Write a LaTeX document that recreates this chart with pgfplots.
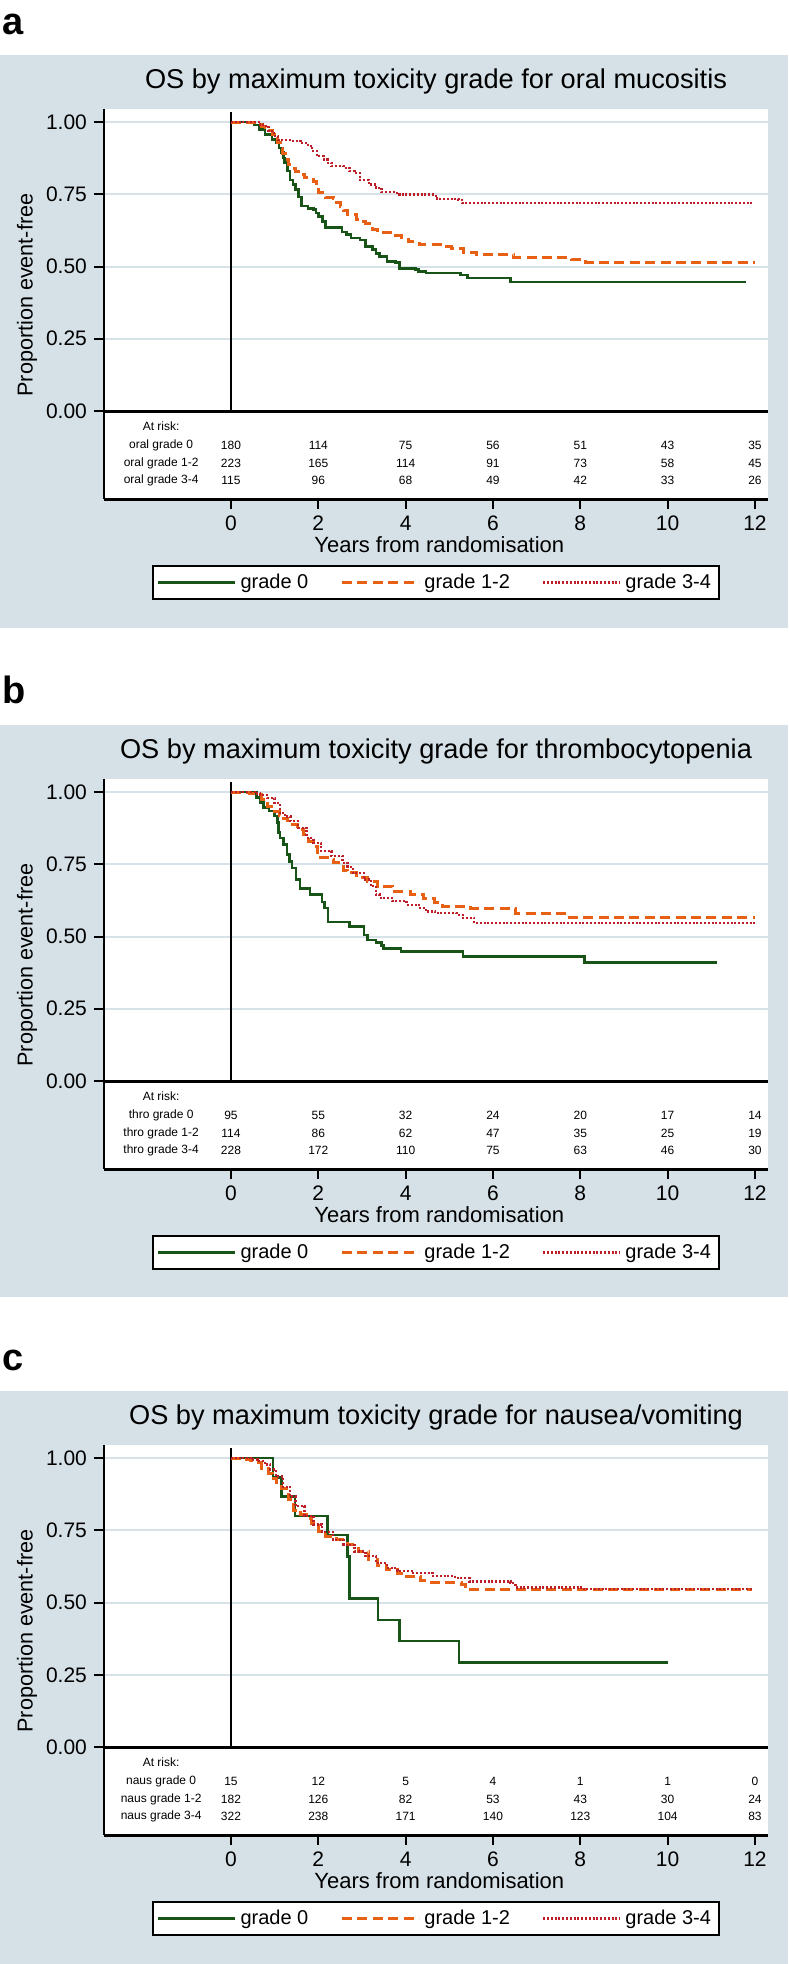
\documentclass[border=0pt]{standalone}
\usepackage{fontspec}
\setmainfont{Liberation Sans}
\usepackage{pgfplots}
\pgfplotsset{compat=1.18}

\definecolor{statabg}{RGB}{213,225,231}
\definecolor{gridc}{RGB}{214,226,232}
\definecolor{g0}{RGB}{24,84,24}
\definecolor{g12}{RGB}{232,96,20}
\definecolor{g34}{RGB}{190,30,40}

\tikzset{
  risk/.style={font=\fontsize{6}{7}\selectfont, inner sep=0pt, anchor=center},
  letter/.style={font=\bfseries\fontsize{19}{22}\selectfont, anchor=base west, inner sep=0pt},
}

\pgfplotsset{
  kmaxis/.style={
    scale only axis, width=332pt, height=195pt,
    anchor=north west,
    xmin=-2.908, xmax=12.298, ymin=-0.3045, ymax=1.045,
    axis x line*=bottom, axis y line*=left,
    x axis line style={line width=1.5pt,-},
    y axis line style={line width=1pt,-},
    xtick={0,2,...,12}, ytick={0,0.25,0.5,0.75,1},
    tick align=outside, major tick length=5pt,
    tick style={black,line width=1pt},
    ymajorgrids, grid style={gridc,line width=1pt},
    axis background/.style={fill=white},
    /pgf/number format/assume math mode=true,
    y tick label style={/pgf/number format/fixed,/pgf/number format/fixed zerofill,/pgf/number format/precision=2},
    tick label style={font=\fontsize{10.5}{12}\selectfont},
    title style={at={(0.5,1)}, anchor=base, yshift=4.5pt, font=\fontsize{13.6}{16}\selectfont},
    xlabel={Years from randomisation},
    xlabel style={at={(axis description cs:0.505,-0.118)}, anchor=center, font=\fontsize{11}{13}\selectfont},
    ylabel={Proportion event-free},
    ylabel style={at={(axis description cs:-0.116,0.523)}, anchor=center, font=\fontsize{10.8}{13}\selectfont},
    legend columns=3,
    legend style={at={(axis description cs:0.5,-0.2141)}, anchor=center,
      draw=black, line width=0.8pt, fill=white,
      font=\fontsize{10}{12}\selectfont,
      inner xsep=2pt, inner ysep=2pt,
      /tikz/every even column/.append style={column sep=14pt}},
    legend image code/.code={\draw[#1] (0pt,0pt) -- (38.5pt,0pt);},
  },
  grade0/.style={const plot, g0, line width=1.3pt, no marks},
  grade12/.style={const plot, g12, line width=1.5pt, dash pattern=on 5pt off 2.7pt, no marks},
  grade34/.style={const plot, g34, line width=1.2pt, dash pattern=on 1pt off 0.9pt, no marks},
}

% one row of the at-risk table: y, label, counts at 0,2,...,12 years
\newcommand{\riskrow}[9]{%
  \node[risk] at (axis cs:-1.6,#1) {#2};
  \node[risk] at (axis cs:0,#1) {#3};
  \node[risk] at (axis cs:2,#1) {#4};
  \node[risk] at (axis cs:4,#1) {#5};
  \node[risk] at (axis cs:6,#1) {#6};
  \node[risk] at (axis cs:8,#1) {#7};
  \node[risk] at (axis cs:10,#1) {#8};
  \node[risk] at (axis cs:12,#1) {#9};
}
\newcommand{\reflines}{%
  \draw[black,line width=1pt] (axis cs:0,0) -- (axis cs:0,1.034);
  \draw[black,line width=1.5pt] (axis cs:-2.908,0) -- (axis cs:12.298,0);
  \node[risk] at (axis cs:-1.6,-0.052) {At risk:};
}

\begin{document}
\begin{tikzpicture}
\path[use as bounding box] (0,0) rectangle (394pt,-982pt);
\fill[white] (0,0) rectangle (394pt,-982pt);
\fill[statabg] (0,-27.5pt) rectangle (394pt,-314pt);
\fill[statabg] (0,-362.5pt) rectangle (394pt,-648.5pt);
\fill[statabg] (0,-695.5pt) rectangle (394pt,-982pt);
\node[letter] at (1pt,-17.5pt) {a};
\node[letter] at (1pt,-351.5pt) {b};
\node[letter] at (1pt,-685pt) {c};

% ---- a: oral mucositis
\begin{axis}[kmaxis, at={(52pt,-54.5pt)},
  title={OS by maximum toxicity grade for oral mucositis}]
\reflines
\addplot[grade0] coordinates {(0,1.000) (0.53,0.990) (0.65,0.975) (0.78,0.957) (0.94,0.940) (1.03,0.930) (1.10,0.910) (1.15,0.894) (1.20,0.875) (1.23,0.860) (1.30,0.830) (1.35,0.800) (1.42,0.783) (1.48,0.766) (1.55,0.740) (1.62,0.710) (1.76,0.700) (1.89,0.697) (1.95,0.685) (2.01,0.674) (2.10,0.655) (2.17,0.636) (2.54,0.620) (2.65,0.610) (2.75,0.598) (2.95,0.592) (3.08,0.570) (3.24,0.558) (3.32,0.545) (3.40,0.535) (3.57,0.517) (3.77,0.514) (3.86,0.494) (4.22,0.490) (4.30,0.483) (4.47,0.477) (5.25,0.470) (5.42,0.460) (6.40,0.446) (11.80,0.446)};
\addlegendentry{grade 0}
\addplot[grade12] coordinates {(0,1.000) (0.62,0.990) (0.70,0.985) (0.78,0.980) (0.86,0.970) (0.94,0.957) (1.00,0.945) (1.07,0.930) (1.13,0.910) (1.19,0.890) (1.25,0.870) (1.31,0.853) (1.40,0.840) (1.48,0.830) (1.58,0.820) (1.68,0.807) (1.80,0.800) (1.89,0.795) (1.95,0.775) (2.01,0.755) (2.17,0.740) (2.34,0.734) (2.42,0.720) (2.50,0.708) (2.58,0.695) (2.67,0.680) (2.87,0.664) (3.00,0.655) (3.08,0.650) (3.17,0.637) (3.24,0.627) (3.36,0.616) (3.73,0.606) (3.90,0.595) (4.06,0.587) (4.31,0.575) (4.80,0.569) (5.05,0.564) (5.33,0.549) (5.62,0.540) (6.48,0.531) (7.79,0.523) (8.12,0.515) (12.00,0.515)};
\addlegendentry{grade 1-2}
\addplot[grade34] coordinates {(0,1.000) (0.66,0.991) (0.74,0.986) (0.86,0.969) (0.98,0.951) (1.07,0.938) (1.35,0.934) (1.60,0.928) (1.76,0.917) (1.86,0.900) (1.97,0.882) (2.13,0.870) (2.22,0.858) (2.30,0.847) (2.58,0.841) (2.71,0.830) (2.83,0.824) (2.95,0.800) (3.16,0.784) (3.32,0.772) (3.45,0.758) (3.77,0.755) (3.86,0.749) (4.63,0.745) (4.72,0.734) (5.21,0.731) (5.29,0.720) (11.95,0.720)};
\addlegendentry{grade 3-4}
\riskrow{-0.118}{oral grade 0}{180}{114}{75}{56}{51}{43}{35}
\riskrow{-0.180}{oral grade 1-2}{223}{165}{114}{91}{73}{58}{45}
\riskrow{-0.239}{oral grade 3-4}{115}{96}{68}{49}{42}{33}{26}
\end{axis}

% ---- b: thrombocytopenia
\begin{axis}[kmaxis, at={(52pt,-389.5pt)},
  title={OS by maximum toxicity grade for thrombocytopenia}]
\reflines
\addplot[grade0] coordinates {(0,1.000) (0.59,0.980) (0.68,0.963) (0.75,0.946) (0.87,0.934) (1.00,0.917) (1.06,0.894) (1.09,0.860) (1.12,0.841) (1.20,0.818) (1.28,0.784) (1.34,0.760) (1.40,0.737) (1.49,0.697) (1.58,0.667) (1.81,0.645) (2.08,0.620) (2.14,0.598) (2.22,0.550) (2.71,0.535) (3.05,0.505) (3.12,0.488) (3.32,0.479) (3.45,0.468) (3.49,0.459) (3.89,0.448) (5.31,0.431) (8.10,0.410) (11.14,0.410)};
\addlegendentry{grade 0}
\addplot[grade12] coordinates {(0,1.000) (0.42,0.995) (0.59,0.990) (0.71,0.975) (0.83,0.951) (1.00,0.934) (1.10,0.920) (1.20,0.910) (1.30,0.900) (1.40,0.888) (1.52,0.870) (1.65,0.853) (1.77,0.830) (1.89,0.812) (1.97,0.790) (2.06,0.772) (2.22,0.766) (2.35,0.755) (2.47,0.743) (2.57,0.730) (2.67,0.720) (2.87,0.703) (3.12,0.691) (3.36,0.674) (3.70,0.656) (4.10,0.645) (4.40,0.630) (4.67,0.618) (4.85,0.604) (5.49,0.598) (6.51,0.581) (7.69,0.567) (12.00,0.567)};
\addlegendentry{grade 1-2}
\addplot[grade34] coordinates {(0,1.000) (0.55,0.995) (0.67,0.990) (0.83,0.980) (1.00,0.963) (1.12,0.928) (1.24,0.915) (1.36,0.900) (1.53,0.876) (1.73,0.841) (1.89,0.824) (2.06,0.795) (2.30,0.778) (2.55,0.755) (2.67,0.740) (2.79,0.720) (3.04,0.697) (3.20,0.674) (3.32,0.645) (3.40,0.633) (3.69,0.622) (4.02,0.610) (4.30,0.598) (4.46,0.587) (4.67,0.581) (5.16,0.575) (5.32,0.564) (5.57,0.546) (12.00,0.546)};
\addlegendentry{grade 3-4}
\riskrow{-0.118}{thro grade 0}{95}{55}{32}{24}{20}{17}{14}
\riskrow{-0.180}{thro grade 1-2}{114}{86}{62}{47}{35}{25}{19}
\riskrow{-0.239}{thro grade 3-4}{228}{172}{110}{75}{63}{46}{30}
\end{axis}

% ---- c: nausea/vomiting
\begin{axis}[kmaxis, at={(52pt,-722.5pt)},
  title={OS by maximum toxicity grade for nausea/vomiting}]
\reflines
\addplot[grade0] coordinates {(0,1.000) (0.96,0.933) (1.16,0.867) (1.47,0.800) (2.21,0.733) (2.67,0.660) (2.71,0.513) (3.37,0.440) (3.86,0.367) (5.22,0.293) (10.00,0.293)};
\addlegendentry{grade 0}
\addplot[grade12] coordinates {(0,1.000) (0.29,0.995) (0.45,0.990) (0.53,0.983) (0.70,0.965) (0.86,0.948) (0.94,0.930) (1.05,0.915) (1.15,0.896) (1.31,0.856) (1.44,0.820) (1.60,0.804) (1.72,0.790) (1.85,0.775) (2.01,0.746) (2.17,0.729) (2.42,0.717) (2.67,0.700) (2.91,0.677) (3.16,0.648) (3.36,0.628) (3.57,0.613) (3.81,0.602) (4.02,0.590) (4.35,0.575) (4.47,0.569) (5.29,0.561) (5.37,0.546) (11.94,0.546)};
\addlegendentry{grade 1-2}
\addplot[grade34] coordinates {(0,1.000) (0.45,0.995) (0.62,0.990) (0.78,0.977) (0.90,0.960) (1.03,0.936) (1.19,0.900) (1.35,0.867) (1.48,0.833) (1.68,0.800) (1.89,0.770) (2.09,0.744) (2.34,0.717) (2.58,0.700) (2.83,0.677) (3.08,0.660) (3.32,0.636) (3.57,0.619) (3.81,0.610) (4.14,0.602) (4.63,0.592) (5.13,0.584) (5.46,0.573) (6.40,0.567) (6.52,0.552) (8.08,0.547) (11.94,0.545)};
\addlegendentry{grade 3-4}
\riskrow{-0.118}{naus grade 0}{15}{12}{5}{4}{1}{1}{0}
\riskrow{-0.180}{naus grade 1-2}{182}{126}{82}{53}{43}{30}{24}
\riskrow{-0.239}{naus grade 3-4}{322}{238}{171}{140}{123}{104}{83}
\end{axis}
\end{tikzpicture}
\end{document}
